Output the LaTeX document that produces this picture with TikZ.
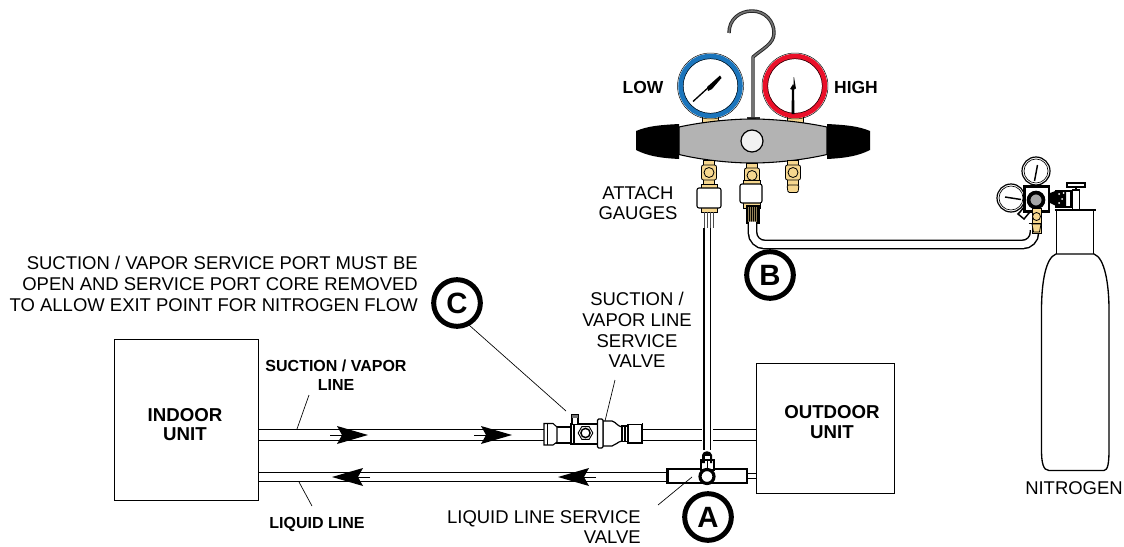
\documentclass[tikz,border=0pt]{standalone}
\usepackage{fontspec}
\setmainfont{Liberation Sans}
\usetikzlibrary{shapes}
\definecolor{brass}{HTML}{F6D78F}
\definecolor{bodygray}{HTML}{B3B3B3}
\definecolor{lowblue}{HTML}{1B75BC}
\definecolor{highred}{HTML}{EA1029}
\tikzstyle{unitbox} = [draw,line width=0.6pt,fill=white,inner sep=0pt]
\tikzstyle{unitname} = [inner sep=0pt,align=center,font=\bfseries\fontsize{14}{14.5}\selectfont]
\tikzstyle{pipe} = [draw,line width=0.9pt]
\tikzstyle{leader} = [draw,line width=0.5pt]
\tikzstyle{badge} = [circle,draw,line width=3.75pt,fill=white,minimum size=35pt,inner sep=0pt,font=\bfseries\fontsize{22}{22}\selectfont]
\tikzstyle{note} = [font=\fontsize{13.85}{15.5}\selectfont,inner sep=0pt,align=right]
\tikzstyle{small} = [font=\bfseries\fontsize{12}{14}\selectfont,inner sep=0pt,align=center]
\tikzstyle{brasspart} = [draw,line width=0.6pt,fill=brass]
\tikzstyle{whitepart} = [draw,line width=0.8pt,fill=white,rounded corners=1.5pt]
\begin{document}
\begin{tikzpicture}[x=0.75pt,y=-0.75pt]
    \useasboundingbox (0,0) rectangle (1124,546);
    % units
    \node[unitbox,minimum width=108pt,minimum height=120.75pt] (indoor) at (186,419.5) {};
    \node[unitbox,minimum width=103.5pt,minimum height=98pt] (outdoor) at (825,428.5) {};
    \node[unitname] (indoorname) at (185,424.5) {INDOOR\\UNIT};
    \node[unitname] (outdoorname) at (832,422) {OUTDOOR\\UNIT};
    % line ends
    \foreach \name/\pos in {s1/258.5,s2/544,s3/643,s4/702,s5/713,s6/756}
        {\coordinate (\name a) at (\pos,429.5); \coordinate (\name b) at (\pos,440.5);}
    \foreach \name/\pos in {l1/258.5,l2/667}
        {\coordinate (\name a) at (\pos,472.5); \coordinate (\name b) at (\pos,481.5);}
    \foreach \source/\dest in {s1/s2,s3/s4,s5/s6,l1/l2}
        {\path[pipe] (\source a) -- (\dest a); \path[pipe] (\source b) -- (\dest b);}
    \coordinate (tubetop) at (704,228);
    \coordinate (tubetoq) at (710.5,228);
    \coordinate (tubebot) at (704,450);
    \coordinate (tubebou) at (710.5,450);
    \path[pipe] (tubetop) -- (tubebot);
    \path[pipe] (tubetoq) -- (tubebou);
    \draw[line width=0.6pt] (747,473) -- (756,473) (747,478.5) -- (756,478.5);
    % arrows on the lines
    \foreach \xx/\dir in {368/1,512/1,332/-1,558/-1}
        {
        \pgfmathsetmacro{\yline}{\dir>0 ? 435 : 477}
        \fill[xshift=\xx*0.75pt,yshift=-\yline*0.75pt,x=\dir*0.75pt]
            (0,0) -- (-31,-9) -- (-26,0) -- (-31,9) -- cycle;
        \draw[line width=0.7pt] (\xx-38*\dir,\yline) -- (\xx-20*\dir,\yline);
        }
    % suction valve
    \draw[line width=0.8pt,fill=white] (556,427) -- (571,427) -- (571,443) -- (556,443) -- cycle;
    \draw[line width=0.8pt,fill=white] (544,423.5) -- (553,423.5) -- (557,427) -- (557,442) -- (553,445) -- (544,445) -- cycle;
    \draw[line width=0.5pt] (547,423.5) -- (547,445);
    \draw[line width=0.8pt,fill=white] (571,424) rectangle (598,444);
    \draw[line width=0.9pt] (574,424) -- (574,444) (571,424) -- (571,444);
    \draw[line width=0.7pt,fill=black!55] (571.5,414) rectangle (578,424);
    \fill[white] (572.5,417.5) rectangle (577,424);
    \draw[line width=0.6pt] (572.5,417.5) -- (572.5,424) (577,417.5) -- (577,424);
    \node[draw,regular polygon,regular polygon sides=6,line width=0.7pt,minimum size=11pt,inner sep=0pt] (porthex) at (585.5,433) {};
    \draw[line width=1.1pt] (porthex.center) circle (4.6);
    \draw[line width=0.9pt,fill=white] (603,421) -- (612,421) .. controls (616,422) and (617,426) .. (622,427) -- (622,441) .. controls (617,442) and (616,445) .. (612,446) -- (603,446) -- cycle;
    \draw[line width=0.9pt,fill=white,rounded corners=1pt] (597.5,419) rectangle (603,448);
    \draw[line width=0.8pt,fill=white] (622,426) rectangle (628,441.5);
    \draw[line width=0.8pt] (625,426) -- (625,441.5);
    \draw[line width=0.8pt,fill=white] (628,424.5) rectangle (642,443);
    \draw[line width=1.2pt] (642.5,423) -- (642.5,443);
    % liquid valve
    \draw[line width=1.6pt,fill=white] (667.5,469) rectangle (747,483);
    \draw[line width=1.2pt,fill=white] (701,460) rectangle (714,470);
    \fill[black] (702,463) -- (702,455) .. controls (703,450) and (711,450) .. (712,455) -- (712,463) -- cycle;
    \fill[white] (704.5,456) rectangle (709.5,459);
    \fill[white] (705,461) rectangle (709.5,469);
    \draw[line width=0.6pt] (707,460) -- (707,470);
    \node[circle,draw,line width=2.4pt,fill=white,minimum size=10.5pt,inner sep=0pt] (liqport) at (707,476.5) {};
    % manifold
    \draw[line width=2.6pt,black!85,line join=round] (729,33) .. controls (729,19) and (740,11) .. (752,11) .. controls (765,11) and (774,21) .. (774,33) .. controls (774,44) and (762,49) .. (753,57) -- (753,118);
    \draw[line width=1.2pt,black!55,line join=round] (729,33) .. controls (729,19) and (740,11) .. (752,11) .. controls (765,11) and (774,21) .. (774,33) .. controls (774,44) and (762,49) .. (753,57) -- (753,118);
    \fill[black!80] (746.5,117) rectangle (759.5,121);
    \draw[brasspart] (702,115) rectangle (718,124);
    \draw[brasspart] (787,115) rectangle (803,124);
    \foreach \name/\xx/\ringcolor in {low/710.5/lowblue,high/795/highred}
        \node[circle,draw=\ringcolor,line width=3.9pt,fill=white,minimum size=44.5pt,inner sep=0pt] (\name) at (\xx,86) {};
    \foreach \name in {low,high}
        {\draw[line width=0.35pt] (\name) circle (33); \draw[line width=0.35pt] (\name) circle (27.3);}
    \draw[line width=1pt] (693,101.5) -- (710,86);
    \fill (707,87) -- (720,75.5) -- (721.5,78) -- (712,89) -- (708,91) -- cycle;
    \fill (791.5,114) -- (794.5,114) -- (794,88) -- (796,89) -- (794,77) -- (793.5,77) -- (793.5,90) -- (790,89) -- (792,86) -- cycle;
    \fill (791,88) -- (793,84) -- (795,88) -- (793,92) -- cycle;
    \draw[line width=0.8pt,fill=bodygray] (679,127) .. controls (702,122) and (730,119) .. (752,119) .. controls (775,119) and (803,122) .. (827,127) -- (827,154.5) .. controls (803,160) and (775,163) .. (752,163) .. controls (730,163) and (702,160) .. (679,154.5) -- cycle;
    \fill (679,124) -- (679,159) .. controls (660,158) and (648,156) .. (636,150) -- (636,131) .. controls (648,126) and (660,125) .. (679,124) -- cycle;
    \fill (827,124) -- (827,159) .. controls (846,158) and (858,156) .. (870,150) -- (870,131) .. controls (858,126) and (846,125) .. (827,124) -- cycle;
    \node[circle,draw,line width=0.9pt,fill=black!5,minimum size=16.5pt,inner sep=0pt] (sightglass) at (752,141) {};
    % hose fittings
    \foreach \xx/\yy in {709/160,752/163,793/160}
        {
        \draw[brasspart] (\xx-5.5,\yy) rectangle (\xx+5.5,\yy+28);
        \draw[brasspart,rounded corners=1.5pt] (\xx-7.5,\yy+5) rectangle (\xx+7.5,\yy+20);
        \draw[brasspart] (\xx,\yy+12.5) circle (5);
        }
    \draw[brasspart,rounded corners=1pt] (787,185) -- (788,192.5) -- (798,192.5) -- (799,185) -- cycle;
    \draw[brasspart] (701,184) rectangle (717,212);
    \draw[whitepart] (697,188) rectangle (721,208);
    \draw[line width=1.1pt] (703,212.5) -- (715,212.5);
    \foreach \xx in {704,707,710,713}
        \draw[line width=0.5pt,black!70] (\xx,212) -- (\xx,228);
    \draw[brasspart] (743,180) rectangle (760,208);
    \draw[whitepart] (740,184) rectangle (762,203);
    \draw[line width=0.8pt,fill=brass!60!black] (747,206) rectangle (759,223);
    \foreach \xx in {749,751,753,755,757}
        \draw[line width=0.4pt] (\xx,206) -- (\xx,223);
    % hose to the regulator
    \coordinate (hosestart) at (752.5,223);
    \coordinate (hoseend) at (1034.5,230);
    \draw[line width=7.4pt,line cap=butt,rounded corners=9pt] (hosestart) |- (1034.5,244.5) -- (hoseend);
    \draw[line width=5.2pt,white,line cap=butt,rounded corners=9pt,shorten <=-1pt] (hosestart) |- (1034.5,244.5) -- (hoseend);
    % tank
    \draw[line width=1pt,fill=white] (1056.5,254) -- (1056.5,210) (1093.5,210) -- (1093.5,254);
    \draw[line width=1pt] (1054.5,210) -- (1096,210);
    \draw[line width=1pt] (1056,254) .. controls (1045,258) and (1041.5,285) .. (1041.5,310) -- (1041.5,450) .. controls (1041.5,462) and (1043,470.5) .. (1049,470.5) -- (1104,470.5) .. controls (1108,470.5) and (1109,462) .. (1109,450) -- (1109,310) .. controls (1109,285) and (1105,258) .. (1094,254) -- cycle;
    % regulator
    \draw[line width=1pt,fill=white] (1072.5,190) rectangle (1079.5,210);
    \draw[line width=1pt,fill=white] (1067,183) rectangle (1085,187);
    \draw[line width=1pt] (1076,187) -- (1076,190);
    \draw[line width=0.8pt,fill=white] (1056,191) rectangle (1071,207);
    \fill (1050,193) -- (1058,190) -- (1066,190) -- (1066,207) -- (1058,207) -- (1050,203) -- cycle;
    \foreach \xx/\yy in {1059/194,1062/199,1059/203,1063.5/193}
        \fill[white] (\xx,\yy) circle (1);
    \draw[line width=1.1pt,fill=white] (1020,212) -- (1024,207) -- (1029,213) -- (1024,219) -- (1018,214) -- cycle;
    \draw[line width=0.7pt,fill=white] (1033,181) rectangle (1039,187);
    \foreach \name/\xx/\yy in {topdial/1036/171,sidedial/1011/198}
        {
        \node[circle,draw,line width=0.9pt,fill=white,minimum size=21pt,inner sep=0pt] (\name) at (\xx,\yy) {};
        \draw[line width=0.5pt] (\name) circle (12);
        }
    \draw[line width=1.1pt] (1034.5,181) -- (1037.5,165);
    \draw[line width=1.1pt] (1005,197) -- (1021,199.5);
    \draw[line width=1.6pt,fill=white] (1024.5,186.5) rectangle (1049,211.5);
    \node[circle,draw,line width=2.6pt,fill=black!35,minimum size=11pt,inner sep=0pt] (regring) at (1036,200) {};
    \draw[line width=0.7pt] (regring) circle (8.8);
    \draw[brasspart] (1032,208) rectangle (1041,233);
    \draw[brasspart] (1036.5,216.5) circle (4);
    \draw[line width=1pt] (1028.5,223.5) -- (1041,223.5);
    \draw[brasspart] (1032,224) -- (1041,224) -- (1039.5,232) -- (1033.5,232) -- cycle;
    % labels
    \node[font=\bfseries\fontsize{13.1}{14}\selectfont,inner sep=0pt] (lowlabel) at (643,87) {LOW};
    \node[font=\bfseries\fontsize{13.1}{14}\selectfont,inner sep=0pt] (highlabel) at (856,87) {HIGH};
    \node[note,align=center] (attach) at (638,203) {ATTACH\\GAUGES};
    \node[note,anchor=east] (portnote) at (418,284) {SUCTION / VAPOR SERVICE PORT MUST BE\\OPEN AND SERVICE PORT CORE REMOVED\\TO ALLOW EXIT POINT FOR NITROGEN FLOW};
    \node[note,align=center] (suctionvalve) at (637,330) {SUCTION /\\VAPOR LINE\\SERVICE\\VALVE};
    \node[note,anchor=east] (liquidvalve) at (641,527) {LIQUID LINE SERVICE\\VALVE};
    \node[note,align=center] (nitrogen) at (1074,488) {NITROGEN};
    \node[small] (suctionline) at (336,375.5) {SUCTION / VAPOR\\LINE};
    \node[small] (liquidline) at (317,524) {LIQUID LINE};
    \node[badge] (badgea) at (708,517) {A};
    \node[badge] (badgeb) at (770,275) {B};
    \node[badge] (badgec) at (457,303) {C};
    % leaders
    \coordinate (c0) at (469,325);
    \coordinate (c1) at (566,411);
    \coordinate (v1) at (605,421);
    \coordinate (s1) at (297,429);
    \coordinate (l1) at (299,482);
    \coordinate (a1) at (692,477);
    \coordinate (s0) at (309,395);
    \coordinate (l0) at (312,506);
    \coordinate (a0) at (658,505);
    \coordinate (v0) at (615,380);
    \foreach \source/\dest in {c0/c1,v0/v1,s0/s1,l0/l1,a0/a1}
        \path[leader] (\source) -- (\dest);
\end{tikzpicture}
\end{document}
